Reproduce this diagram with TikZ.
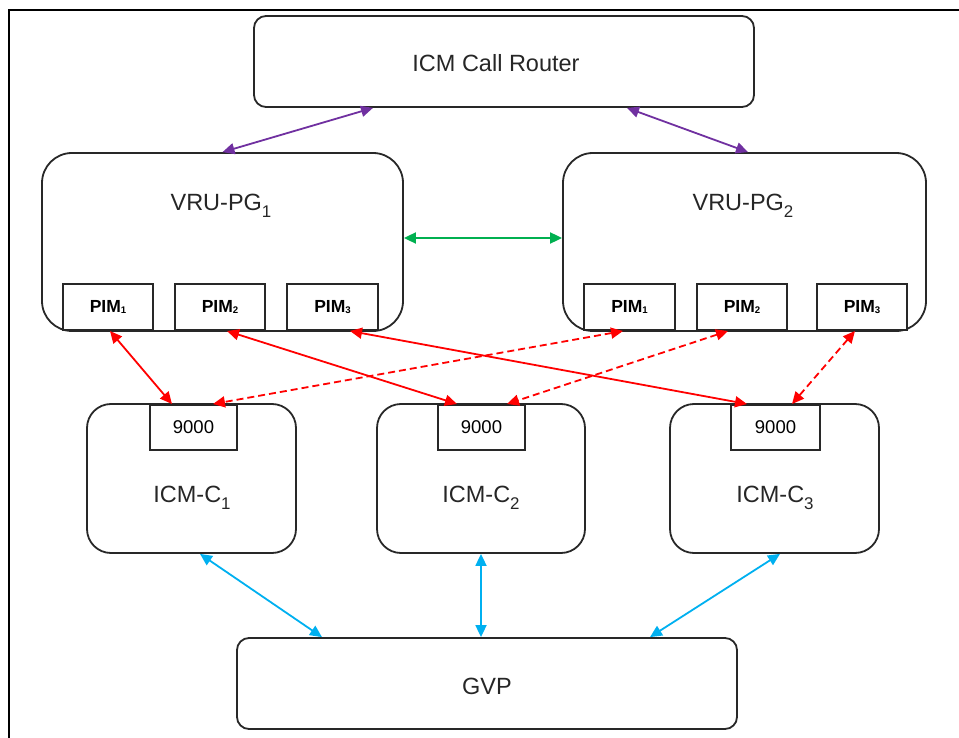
\documentclass[tikz,border=0pt]{standalone}
\usepackage{fontspec}
\setmainfont{Liberation Sans}
\usetikzlibrary{arrows.meta,calc}
\newcommand{\mysub}[1]{\raisebox{-0.28em}{\scalebox{0.72}{#1}}}
\newcommand{\pimsub}[1]{\raisebox{-0.05em}{\scalebox{0.55}{#1}}}
\definecolor{cpurple}{RGB}{112,48,160}
\definecolor{cgreen}{RGB}{0,176,80}
\definecolor{cred}{RGB}{255,0,0}
\definecolor{cblue}{RGB}{0,176,240}
\definecolor{cline}{RGB}{40,40,40}
\tikzset{
  bigbox/.style={draw=cline,line width=1.8pt,inner sep=0pt},
  smallbox/.style={draw=cline,line width=1.6pt,fill=white,inner sep=0pt,minimum height=46pt},
  bigtext/.style={font=\fontsize{23.5}{27}\selectfont,text=black!85,inner sep=0pt},
  pimtext/.style={font=\fontsize{17.5}{20}\selectfont\bfseries},
  numtext/.style={font=\fontsize{18.5}{20}\selectfont},
  conn/.style={line width=1.8pt,{Triangle[length=12pt,width=11pt]}-{Triangle[length=12pt,width=11pt]}},
}
\begin{document}
\begin{tikzpicture}[x=1pt,y=-1pt]
\useasboundingbox (0,0) rectangle (959,738);
\draw[line width=1.8pt,black] (9,740) -- (9,10) -- (960,10);

% top
\node[bigbox,rounded corners=12pt,minimum width=500pt,minimum height=91pt] (router) at (504,61.5) {};
\node[bigtext] (routerlbl) at (496,63) {ICM Call Router};

% VRU-PG boxes
\node[bigbox,rounded corners=30pt,minimum width=361pt,minimum height=178pt] (vru1) at (222.5,242) {};
\node[bigtext] (vru1lbl) at (221,206) {VRU-PG\mysub{1}};
\node[bigbox,rounded corners=30pt,minimum width=363pt,minimum height=178pt] (vru2) at (744.5,242) {};
\node[bigtext] (vru2lbl) at (743,206) {VRU-PG\mysub{2}};

\node[smallbox,minimum width=90pt,anchor=south] (p11) at (108,331) {};
\node[pimtext] at (p11) {PIM\pimsub{1}};
\node[smallbox,minimum width=90pt,anchor=south] (p12) at (220,331) {};
\node[pimtext] at (p12) {PIM\pimsub{2}};
\node[smallbox,minimum width=91pt,anchor=south] (p13) at (332.5,331) {};
\node[pimtext] at (p13) {PIM\pimsub{3}};
\node[smallbox,minimum width=91pt,anchor=south] (p21) at (629.5,331) {};
\node[pimtext] at (p21) {PIM\pimsub{1}};
\node[smallbox,minimum width=90pt,anchor=south] (p22) at (742,331) {};
\node[pimtext] at (p22) {PIM\pimsub{2}};
\node[smallbox,minimum width=90pt,anchor=south] (p23) at (862,331) {};
\node[pimtext] at (p23) {PIM\pimsub{3}};

% ICM-C boxes
\node[bigbox,rounded corners=24pt,minimum width=209pt,minimum height=149pt] (c1) at (191.5,478.5) {};
\node[bigtext] (c1lbl) at (192,498) {ICM-C\mysub{1}};
\node[bigbox,rounded corners=24pt,minimum width=208pt,minimum height=149pt] (c2) at (481,478.5) {};
\node[bigtext] (c2lbl) at (481,498) {ICM-C\mysub{2}};
\node[bigbox,rounded corners=24pt,minimum width=209pt,minimum height=149pt] (c3) at (774.5,478.5) {};
\node[bigtext] (c3lbl) at (775,498) {ICM-C\mysub{3}};

\node[smallbox,minimum width=87pt,minimum height=45pt,anchor=north] (n1) at (193.5,404) {};
\node[numtext] at (n1) {9000};
\node[smallbox,minimum width=87pt,minimum height=45pt,anchor=north] (n2) at (481.5,404) {};
\node[numtext] at (n2) {9000};
\node[smallbox,minimum width=89pt,minimum height=45pt,anchor=north] (n3) at (775.5,404) {};
\node[numtext] at (n3) {9000};

% GVP
\node[bigbox,rounded corners=12pt,minimum width=500pt,minimum height=91pt] (gvp) at (487,683.5) {};
\node[bigtext] (gvplbl) at (487,686) {GVP};

% connectors
\draw[conn,cpurple] ([xshift=-131pt]router.south) -- (vru1.north);
\draw[conn,cpurple] ([xshift=123pt]router.south) -- ([xshift=3.5pt]vru2.north);
\draw[conn,cgreen] ([yshift=4pt]vru1.east) -- ([yshift=4pt]vru2.west);

\draw[conn,cred] ([xshift=2pt]p11.south) -- ([xshift=-21.5pt]n1.north);
\draw[conn,cred] ([xshift=7pt]p12.south) -- ([xshift=-24.5pt]n2.north);
\draw[conn,cred] ([xshift=17.5pt]p13.south) -- ([xshift=-28.5pt]n3.north);
\draw[conn,cred,dash pattern=on 7pt off 4pt] ([xshift=-6.5pt]p21.south) -- ([xshift=19.5pt]n1.north);
\draw[conn,cred,dash pattern=on 7pt off 4pt] ([xshift=-14pt]p22.south) -- ([xshift=25.5pt]n2.north);
\draw[conn,cred,dash pattern=on 7pt off 4pt] ([xshift=-7pt]p23.south) -- ([xshift=16.5pt]n3.north);

\draw[conn,cblue] ([xshift=8.5pt]c1.south) -- ([xshift=-165pt]gvp.north);
\draw[conn,cblue] (c2.south) -- ([xshift=-6pt]gvp.north);
\draw[conn,cblue] ([xshift=5.5pt]c3.south) -- ([xshift=163pt]gvp.north);
\end{tikzpicture}
\end{document}
